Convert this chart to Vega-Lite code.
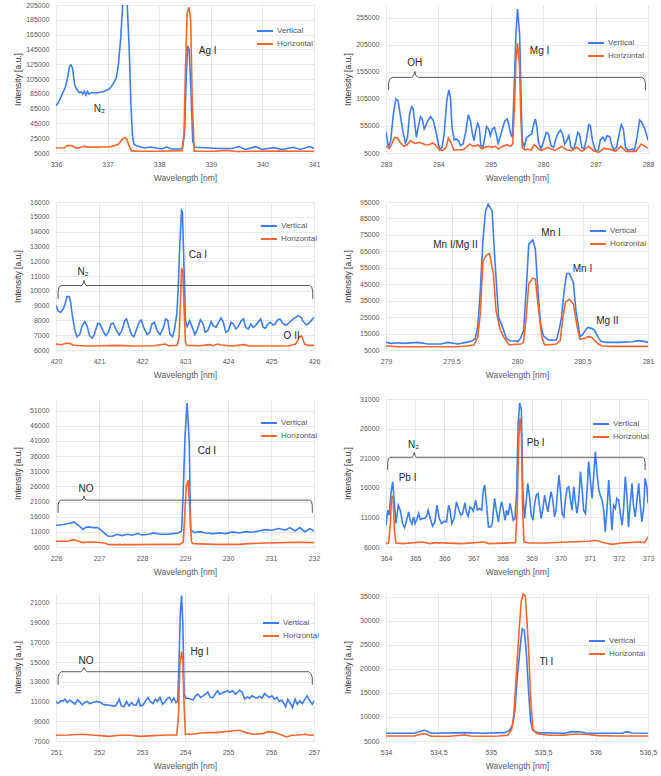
{
"$schema": "https://vega.github.io/schema/vega-lite/v6.json",
"padding": {"left": 13, "top": 1, "right": 8, "bottom": 2},
"columns": 2,
"spacing": {"row": 16, "column": 23},
"resolve": {"scale": {"color": "independent"}, "legend": {"color": "independent"}},
"datasets": {
"p1v": [{"nm":336.0,"v":68500},{"nm":336.06,"v":75000},{"nm":336.13,"v":86000},{"nm":336.19,"v":95500},{"nm":336.23,"v":109000},{"nm":336.26,"v":121500},{"nm":336.29,"v":124000},{"nm":336.32,"v":120000},{"nm":336.36,"v":97500},{"nm":336.39,"v":92500},{"nm":336.45,"v":86500},{"nm":336.49,"v":87500},{"nm":336.52,"v":85000},{"nm":336.55,"v":88500},{"nm":336.58,"v":83500},{"nm":336.61,"v":88000},{"nm":336.64,"v":84500},{"nm":336.68,"v":86500},{"nm":336.81,"v":86500},{"nm":336.94,"v":88500},{"nm":337.04,"v":92000},{"nm":337.1,"v":97500},{"nm":337.17,"v":107000},{"nm":337.21,"v":125000},{"nm":337.25,"v":156500},{"nm":337.29,"v":202000},{"nm":337.32,"v":250000},{"nm":337.36,"v":250000},{"nm":337.38,"v":206000},{"nm":337.42,"v":143000},{"nm":337.45,"v":75000},{"nm":337.48,"v":30000},{"nm":337.51,"v":17000},{"nm":337.59,"v":14000},{"nm":337.72,"v":11800},{"nm":337.82,"v":13000},{"nm":337.92,"v":12000},{"nm":338.05,"v":10500},{"nm":338.14,"v":13000},{"nm":338.24,"v":10500},{"nm":338.37,"v":10500},{"nm":338.45,"v":11000},{"nm":338.49,"v":30000},{"nm":338.52,"v":97500},{"nm":338.55,"v":150000},{"nm":338.58,"v":145000},{"nm":338.61,"v":97500},{"nm":338.65,"v":21000},{"nm":338.69,"v":12700},{"nm":338.89,"v":12000},{"nm":339.15,"v":11000},{"nm":339.41,"v":11000},{"nm":339.54,"v":13700},{"nm":339.67,"v":9800},{"nm":339.87,"v":13600},{"nm":339.99,"v":9800},{"nm":340.22,"v":12300},{"nm":340.38,"v":9800},{"nm":340.6,"v":12700},{"nm":340.73,"v":9800},{"nm":340.92,"v":13700},{"nm":341.0,"v":11000}],
"p1h": [{"nm":336.0,"v":11800},{"nm":336.16,"v":12000},{"nm":336.22,"v":15200},{"nm":336.3,"v":15000},{"nm":336.38,"v":12000},{"nm":336.46,"v":12200},{"nm":336.55,"v":14000},{"nm":336.63,"v":13000},{"nm":336.75,"v":13000},{"nm":336.9,"v":13200},{"nm":337.07,"v":13600},{"nm":337.2,"v":16300},{"nm":337.28,"v":23000},{"nm":337.33,"v":26000},{"nm":337.37,"v":24000},{"nm":337.41,"v":16000},{"nm":337.46,"v":8200},{"nm":337.6,"v":7300},{"nm":338.0,"v":7300},{"nm":338.44,"v":8200},{"nm":338.48,"v":30000},{"nm":338.51,"v":120000},{"nm":338.54,"v":193000},{"nm":338.58,"v":202000},{"nm":338.61,"v":184000},{"nm":338.64,"v":75000},{"nm":338.68,"v":7300},{"nm":339.08,"v":7300},{"nm":339.3,"v":8500},{"nm":339.5,"v":7000},{"nm":339.8,"v":7300},{"nm":340.3,"v":7500},{"nm":340.7,"v":7300},{"nm":341.0,"v":7300}],
"p1t": [{"nm":338.94,"v":143000,"t":"Ag I"},{"nm":336.84,"v":63800,"t":"N₂"}],
"p2v": [{"nm":283.0,"v":44500},{"nm":283.045,"v":15500},{"nm":283.09,"v":27800},{"nm":283.14,"v":77200},{"nm":283.19,"v":105000},{"nm":283.23,"v":101900},{"nm":283.27,"v":77200},{"nm":283.32,"v":46400},{"nm":283.37,"v":22900},{"nm":283.41,"v":34000},{"nm":283.45,"v":77200},{"nm":283.49,"v":90800},{"nm":283.52,"v":86500},{"nm":283.55,"v":58700},{"nm":283.58,"v":34000},{"nm":283.62,"v":55600},{"nm":283.66,"v":72300},{"nm":283.69,"v":68000},{"nm":283.73,"v":49400},{"nm":283.76,"v":55600},{"nm":283.8,"v":64900},{"nm":283.85,"v":72300},{"nm":283.9,"v":66100},{"nm":283.95,"v":46400},{"nm":284.0,"v":21700},{"nm":284.03,"v":10600},{"nm":284.07,"v":15500},{"nm":284.11,"v":40200},{"nm":284.16,"v":101900},{"nm":284.2,"v":121700},{"nm":284.23,"v":108100},{"nm":284.26,"v":52500},{"nm":284.3,"v":29100},{"nm":284.34,"v":30900},{"nm":284.39,"v":26600},{"nm":284.42,"v":18600},{"nm":284.47,"v":21700},{"nm":284.52,"v":43300},{"nm":284.57,"v":76000},{"nm":284.61,"v":64900},{"nm":284.65,"v":40200},{"nm":284.68,"v":27800},{"nm":284.72,"v":49400},{"nm":284.75,"v":59900},{"nm":284.78,"v":52500},{"nm":284.81,"v":18600},{"nm":284.85,"v":15500},{"nm":284.88,"v":30900},{"nm":284.92,"v":53800},{"nm":284.96,"v":49400},{"nm":284.99,"v":37100},{"nm":285.03,"v":49400},{"nm":285.07,"v":52500},{"nm":285.1,"v":41400},{"nm":285.14,"v":22900},{"nm":285.18,"v":35200},{"nm":285.23,"v":52500},{"nm":285.27,"v":64900},{"nm":285.31,"v":68000},{"nm":285.34,"v":58700},{"nm":285.38,"v":40200},{"nm":285.41,"v":34000},{"nm":285.44,"v":108100},{"nm":285.48,"v":225400},{"nm":285.51,"v":271700},{"nm":285.55,"v":225400},{"nm":285.58,"v":101900},{"nm":285.6,"v":27800},{"nm":285.64,"v":16700},{"nm":285.68,"v":32800},{"nm":285.73,"v":37100},{"nm":285.78,"v":40200},{"nm":285.82,"v":58700},{"nm":285.85,"v":68000},{"nm":285.88,"v":52500},{"nm":285.91,"v":24700},{"nm":285.96,"v":12400},{"nm":286.01,"v":27800},{"nm":286.06,"v":43300},{"nm":286.1,"v":40200},{"nm":286.15,"v":18600},{"nm":286.2,"v":15500},{"nm":286.24,"v":30900},{"nm":286.28,"v":40200},{"nm":286.33,"v":47600},{"nm":286.37,"v":40200},{"nm":286.41,"v":21700},{"nm":286.45,"v":27800},{"nm":286.49,"v":37100},{"nm":286.53,"v":15500},{"nm":286.58,"v":12400},{"nm":286.62,"v":24700},{"nm":286.66,"v":43300},{"nm":286.69,"v":40200},{"nm":286.74,"v":15500},{"nm":286.78,"v":12400},{"nm":286.82,"v":27800},{"nm":286.87,"v":57500},{"nm":286.9,"v":55600},{"nm":286.94,"v":27800},{"nm":287.0,"v":8100},{"nm":287.05,"v":9300},{"nm":287.09,"v":29100},{"nm":287.14,"v":34000},{"nm":287.18,"v":27800},{"nm":287.22,"v":37100},{"nm":287.27,"v":35200},{"nm":287.31,"v":18600},{"nm":287.35,"v":10600},{"nm":287.4,"v":15500},{"nm":287.45,"v":40200},{"nm":287.49,"v":57500},{"nm":287.53,"v":49400},{"nm":287.57,"v":15500},{"nm":287.61,"v":10600},{"nm":287.66,"v":10600},{"nm":287.7,"v":12400},{"nm":287.74,"v":9300},{"nm":287.79,"v":34000},{"nm":287.84,"v":66100},{"nm":287.88,"v":61800},{"nm":287.94,"v":49400},{"nm":288.0,"v":29100}],
"p2h": [{"nm":283.0,"v":17300},{"nm":283.06,"v":13600},{"nm":283.11,"v":21700},{"nm":283.17,"v":34000},{"nm":283.22,"v":32800},{"nm":283.27,"v":24800},{"nm":283.34,"v":17300},{"nm":283.4,"v":19800},{"nm":283.47,"v":27800},{"nm":283.51,"v":24800},{"nm":283.56,"v":22900},{"nm":283.63,"v":24800},{"nm":283.69,"v":22900},{"nm":283.76,"v":19800},{"nm":283.82,"v":20400},{"nm":283.89,"v":23500},{"nm":283.95,"v":19800},{"nm":284.02,"v":11200},{"nm":284.08,"v":9300},{"nm":284.15,"v":15500},{"nm":284.19,"v":32800},{"nm":284.24,"v":24800},{"nm":284.29,"v":11200},{"nm":284.37,"v":10600},{"nm":284.47,"v":11200},{"nm":284.53,"v":15500},{"nm":284.6,"v":21700},{"nm":284.66,"v":17300},{"nm":284.76,"v":19800},{"nm":284.83,"v":12400},{"nm":284.89,"v":15500},{"nm":284.96,"v":17300},{"nm":285.02,"v":15500},{"nm":285.09,"v":17300},{"nm":285.15,"v":12400},{"nm":285.21,"v":16700},{"nm":285.31,"v":20400},{"nm":285.38,"v":17300},{"nm":285.42,"v":21700},{"nm":285.45,"v":89600},{"nm":285.48,"v":176000},{"nm":285.51,"v":208100},{"nm":285.55,"v":163600},{"nm":285.57,"v":77200},{"nm":285.6,"v":15500},{"nm":285.65,"v":10600},{"nm":285.7,"v":12400},{"nm":285.77,"v":10600},{"nm":285.83,"v":20400},{"nm":285.9,"v":13600},{"nm":285.96,"v":9300},{"nm":286.09,"v":15500},{"nm":286.22,"v":9300},{"nm":286.35,"v":17300},{"nm":286.45,"v":10600},{"nm":286.54,"v":9300},{"nm":286.64,"v":15500},{"nm":286.74,"v":8100},{"nm":286.87,"v":17300},{"nm":286.96,"v":9300},{"nm":287.06,"v":6200},{"nm":287.16,"v":13600},{"nm":287.26,"v":12400},{"nm":287.38,"v":8100},{"nm":287.48,"v":17300},{"nm":287.58,"v":8100},{"nm":287.77,"v":8100},{"nm":287.87,"v":21700},{"nm":287.94,"v":17300},{"nm":288.0,"v":13600}],
"p2t": [{"nm":285.93,"v":194500,"t":"Mg I"},{"nm":283.55,"v":171000,"t":"OH"}],
"p2b": [{"nm":283.049,"v":121000},{"nm":283.05,"v":135000},{"nm":283.07,"v":142000},{"nm":283.12,"v":145000},{"nm":283.48,"v":145000},{"nm":283.53,"v":148500},{"nm":283.55,"v":156000},{"nm":283.57,"v":148500},{"nm":283.62,"v":145000},{"nm":287.88,"v":145000},{"nm":287.93,"v":142000},{"nm":287.95,"v":135000},{"nm":287.951,"v":121000}],
"p3v": [{"nm":420.0,"v":9000},{"nm":420.05,"v":8620},{"nm":420.11,"v":8550},{"nm":420.17,"v":8780},{"nm":420.21,"v":9110},{"nm":420.26,"v":9610},{"nm":420.31,"v":9610},{"nm":420.34,"v":9230},{"nm":420.38,"v":8320},{"nm":420.44,"v":7310},{"nm":420.49,"v":6900},{"nm":420.55,"v":7040},{"nm":420.61,"v":7650},{"nm":420.67,"v":7920},{"nm":420.72,"v":7650},{"nm":420.78,"v":6970},{"nm":420.84,"v":6790},{"nm":420.89,"v":7040},{"nm":420.97,"v":7810},{"nm":421.02,"v":7760},{"nm":421.09,"v":7310},{"nm":421.16,"v":6970},{"nm":421.22,"v":7200},{"nm":421.28,"v":7760},{"nm":421.33,"v":7810},{"nm":421.39,"v":7420},{"nm":421.47,"v":7020},{"nm":421.53,"v":7310},{"nm":421.6,"v":7990},{"nm":421.64,"v":8100},{"nm":421.7,"v":7530},{"nm":421.76,"v":7020},{"nm":421.81,"v":6900},{"nm":421.87,"v":7350},{"nm":421.93,"v":7870},{"nm":421.98,"v":8030},{"nm":422.04,"v":7530},{"nm":422.12,"v":7040},{"nm":422.18,"v":7200},{"nm":422.23,"v":7760},{"nm":422.29,"v":7870},{"nm":422.35,"v":7310},{"nm":422.42,"v":7040},{"nm":422.5,"v":7530},{"nm":422.55,"v":8100},{"nm":422.6,"v":7990},{"nm":422.65,"v":7080},{"nm":422.71,"v":6900},{"nm":422.75,"v":7310},{"nm":422.81,"v":8440},{"nm":422.84,"v":10020},{"nm":422.88,"v":13180},{"nm":422.92,"v":15430},{"nm":422.94,"v":15320},{"nm":422.97,"v":12270},{"nm":423.01,"v":7990},{"nm":423.05,"v":7580},{"nm":423.11,"v":7990},{"nm":423.17,"v":7530},{"nm":423.23,"v":7040},{"nm":423.29,"v":7420},{"nm":423.36,"v":8050},{"nm":423.42,"v":7760},{"nm":423.47,"v":7200},{"nm":423.53,"v":7310},{"nm":423.61,"v":7920},{"nm":423.66,"v":7650},{"nm":423.72,"v":7530},{"nm":423.78,"v":7870},{"nm":423.84,"v":8170},{"nm":423.89,"v":7870},{"nm":423.95,"v":7200},{"nm":424.01,"v":7310},{"nm":424.07,"v":7870},{"nm":424.13,"v":7760},{"nm":424.18,"v":7420},{"nm":424.24,"v":7580},{"nm":424.31,"v":7990},{"nm":424.36,"v":8100},{"nm":424.41,"v":7530},{"nm":424.47,"v":7420},{"nm":424.53,"v":7760},{"nm":424.59,"v":7530},{"nm":424.64,"v":7650},{"nm":424.7,"v":7870},{"nm":424.76,"v":8100},{"nm":424.82,"v":7530},{"nm":424.87,"v":7470},{"nm":424.93,"v":7760},{"nm":424.98,"v":7870},{"nm":425.05,"v":7690},{"nm":425.1,"v":7760},{"nm":425.15,"v":8030},{"nm":425.21,"v":8100},{"nm":425.27,"v":7810},{"nm":425.33,"v":7690},{"nm":425.39,"v":7760},{"nm":425.47,"v":7990},{"nm":425.54,"v":8140},{"nm":425.63,"v":8320},{"nm":425.7,"v":8210},{"nm":425.75,"v":7920},{"nm":425.83,"v":7690},{"nm":425.9,"v":7870},{"nm":426.0,"v":8210}],
"p3h": [{"nm":420.0,"v":6400},{"nm":420.13,"v":6360},{"nm":420.24,"v":6450},{"nm":420.32,"v":6450},{"nm":420.39,"v":6340},{"nm":420.51,"v":6300},{"nm":420.74,"v":6270},{"nm":421.05,"v":6290},{"nm":421.43,"v":6310},{"nm":421.81,"v":6270},{"nm":422.27,"v":6290},{"nm":422.54,"v":6400},{"nm":422.62,"v":6290},{"nm":422.81,"v":6310},{"nm":422.86,"v":6740},{"nm":422.89,"v":8890},{"nm":422.92,"v":11490},{"nm":422.95,"v":11370},{"nm":422.98,"v":8660},{"nm":423.01,"v":6520},{"nm":423.05,"v":6310},{"nm":423.34,"v":6290},{"nm":423.57,"v":6360},{"nm":423.65,"v":6290},{"nm":423.76,"v":6400},{"nm":423.84,"v":6340},{"nm":424.1,"v":6270},{"nm":424.37,"v":6360},{"nm":424.49,"v":6270},{"nm":424.87,"v":6270},{"nm":425.25,"v":6270},{"nm":425.4,"v":6290},{"nm":425.5,"v":6340},{"nm":425.57,"v":6400},{"nm":425.61,"v":6580},{"nm":425.65,"v":6860},{"nm":425.71,"v":6950},{"nm":425.74,"v":6740},{"nm":425.78,"v":6400},{"nm":425.86,"v":6310},{"nm":426.0,"v":6310}],
"p3t": [{"nm":420.63,"v":11260,"t":"N₂"},{"nm":423.3,"v":12390,"t":"Ca I"},{"nm":425.48,"v":6970,"t":"O II"}],
"p3b": [{"nm":420.049,"v":9450},{"nm":420.05,"v":9950},{"nm":420.07,"v":10250},{"nm":420.12,"v":10360},{"nm":420.6,"v":10360},{"nm":420.63,"v":10480},{"nm":420.65,"v":10700},{"nm":420.67,"v":10480},{"nm":420.7,"v":10360},{"nm":425.9,"v":10360},{"nm":425.95,"v":10250},{"nm":425.97,"v":9950},{"nm":425.971,"v":9450}],
"p4v": [{"nm":279.0,"v":9650},{"nm":279.04,"v":9050},{"nm":279.09,"v":9450},{"nm":279.14,"v":9050},{"nm":279.24,"v":9650},{"nm":279.32,"v":8640},{"nm":279.42,"v":8640},{"nm":279.47,"v":9650},{"nm":279.55,"v":8640},{"nm":279.61,"v":9650},{"nm":279.65,"v":10260},{"nm":279.68,"v":11680},{"nm":279.7,"v":18760},{"nm":279.72,"v":41030},{"nm":279.74,"v":71390},{"nm":279.76,"v":89600},{"nm":279.78,"v":93650},{"nm":279.81,"v":89600},{"nm":279.83,"v":61270},{"nm":279.86,"v":24840},{"nm":279.89,"v":18760},{"nm":279.92,"v":11680},{"nm":279.95,"v":10670},{"nm":280.01,"v":10260},{"nm":280.03,"v":12690},{"nm":280.05,"v":16740},{"nm":280.07,"v":41030},{"nm":280.09,"v":69360},{"nm":280.12,"v":71990},{"nm":280.14,"v":66330},{"nm":280.16,"v":41030},{"nm":280.18,"v":20790},{"nm":280.2,"v":13700},{"nm":280.24,"v":11070},{"nm":280.3,"v":11070},{"nm":280.32,"v":16740},{"nm":280.34,"v":24840},{"nm":280.36,"v":41030},{"nm":280.38,"v":51550},{"nm":280.4,"v":51550},{"nm":280.43,"v":46090},{"nm":280.45,"v":28880},{"nm":280.47,"v":18760},{"nm":280.48,"v":13100},{"nm":280.5,"v":14310},{"nm":280.52,"v":16740},{"nm":280.54,"v":18760},{"nm":280.57,"v":18160},{"nm":280.59,"v":17140},{"nm":280.62,"v":12690},{"nm":280.64,"v":10260},{"nm":280.68,"v":9650},{"nm":280.78,"v":9650},{"nm":280.88,"v":10060},{"nm":280.93,"v":10670},{"nm":280.97,"v":10260},{"nm":281.0,"v":9650}],
"p4h": [{"nm":279.0,"v":7630},{"nm":279.09,"v":7020},{"nm":279.35,"v":7020},{"nm":279.55,"v":7020},{"nm":279.61,"v":7430},{"nm":279.67,"v":8040},{"nm":279.7,"v":12690},{"nm":279.72,"v":26860},{"nm":279.74,"v":59240},{"nm":279.77,"v":62890},{"nm":279.79,"v":63700},{"nm":279.82,"v":51150},{"nm":279.84,"v":28880},{"nm":279.87,"v":17750},{"nm":279.9,"v":12690},{"nm":279.94,"v":8040},{"nm":279.99,"v":8440},{"nm":280.03,"v":8640},{"nm":280.05,"v":9650},{"nm":280.07,"v":24840},{"nm":280.09,"v":45480},{"nm":280.12,"v":48720},{"nm":280.14,"v":48110},{"nm":280.16,"v":32930},{"nm":280.19,"v":12690},{"nm":280.21,"v":8040},{"nm":280.25,"v":8240},{"nm":280.3,"v":8640},{"nm":280.33,"v":10670},{"nm":280.35,"v":24840},{"nm":280.37,"v":33940},{"nm":280.4,"v":35970},{"nm":280.43,"v":32930},{"nm":280.46,"v":18760},{"nm":280.48,"v":11480},{"nm":280.52,"v":12080},{"nm":280.54,"v":13100},{"nm":280.57,"v":12690},{"nm":280.59,"v":11070},{"nm":280.62,"v":8640},{"nm":280.65,"v":7430},{"nm":280.73,"v":7230},{"nm":281.0,"v":7230}],
"p4t": [{"nm":279.53,"v":69000,"t":"Mn I/Mg II"},{"nm":280.26,"v":76450,"t":"Mn I"},{"nm":280.5,"v":54180,"t":"Mn I"},{"nm":280.69,"v":22810,"t":"Mg II"}],
"p5v": [{"nm":226.0,"v":13180},{"nm":226.17,"v":13400},{"nm":226.28,"v":13730},{"nm":226.36,"v":13950},{"nm":226.42,"v":14280},{"nm":226.47,"v":13730},{"nm":226.55,"v":12840},{"nm":226.63,"v":11740},{"nm":226.68,"v":12400},{"nm":226.76,"v":12620},{"nm":226.86,"v":12400},{"nm":226.97,"v":12400},{"nm":227.05,"v":11520},{"nm":227.12,"v":10640},{"nm":227.2,"v":9640},{"nm":227.31,"v":9530},{"nm":227.43,"v":10200},{"nm":227.54,"v":9750},{"nm":227.66,"v":10200},{"nm":227.77,"v":9860},{"nm":227.89,"v":10420},{"nm":228.0,"v":9970},{"nm":228.16,"v":10200},{"nm":228.27,"v":10640},{"nm":228.42,"v":10200},{"nm":228.58,"v":10200},{"nm":228.73,"v":10420},{"nm":228.84,"v":10640},{"nm":228.92,"v":11300},{"nm":228.96,"v":24770},{"nm":229.0,"v":42430},{"nm":229.05,"v":53470},{"nm":229.1,"v":40220},{"nm":229.13,"v":11520},{"nm":229.23,"v":10750},{"nm":229.34,"v":11080},{"nm":229.49,"v":10640},{"nm":229.65,"v":10420},{"nm":229.8,"v":10640},{"nm":229.95,"v":10420},{"nm":230.11,"v":10970},{"nm":230.26,"v":10640},{"nm":230.41,"v":11080},{"nm":230.56,"v":10860},{"nm":230.72,"v":11300},{"nm":230.87,"v":11740},{"nm":231.02,"v":11520},{"nm":231.18,"v":12070},{"nm":231.33,"v":11520},{"nm":231.44,"v":12400},{"nm":231.56,"v":11300},{"nm":231.67,"v":12400},{"nm":231.79,"v":10970},{"nm":231.9,"v":12070},{"nm":232.0,"v":11300}],
"p5h": [{"nm":226.0,"v":7880},{"nm":226.28,"v":7880},{"nm":226.4,"v":8430},{"nm":226.51,"v":7990},{"nm":226.63,"v":7440},{"nm":226.74,"v":7660},{"nm":226.97,"v":7550},{"nm":227.12,"v":7330},{"nm":227.24,"v":6770},{"nm":227.8,"v":6770},{"nm":228.57,"v":6880},{"nm":228.88,"v":6880},{"nm":228.96,"v":7660},{"nm":228.99,"v":15940},{"nm":229.03,"v":25870},{"nm":229.07,"v":28080},{"nm":229.11,"v":19250},{"nm":229.15,"v":7660},{"nm":229.19,"v":7100},{"nm":229.72,"v":6880},{"nm":230.26,"v":6880},{"nm":230.48,"v":7100},{"nm":230.87,"v":7320},{"nm":231.25,"v":7440},{"nm":231.63,"v":7550},{"nm":232.0,"v":7440}],
"p5t": [{"nm":226.7,"v":25000,"t":"NO"},{"nm":229.51,"v":37800,"t":"Cd I"}],
"p5b": [{"nm":226.049,"v":17260},{"nm":226.05,"v":19800},{"nm":226.07,"v":21000},{"nm":226.12,"v":21450},{"nm":226.6,"v":21450},{"nm":226.63,"v":21900},{"nm":226.65,"v":22800},{"nm":226.67,"v":21900},{"nm":226.7,"v":21450},{"nm":231.9,"v":21450},{"nm":231.94,"v":21000},{"nm":231.96,"v":19800},{"nm":231.961,"v":17260}],
"p6v": [{"nm":364.0,"v":9680},{"nm":364.06,"v":12220},{"nm":364.11,"v":11370},{"nm":364.17,"v":15050},{"nm":364.23,"v":17030},{"nm":364.29,"v":13350},{"nm":364.34,"v":9960},{"nm":364.42,"v":13070},{"nm":364.49,"v":12220},{"nm":364.57,"v":9960},{"nm":364.64,"v":9280},{"nm":364.72,"v":10810},{"nm":364.78,"v":11940},{"nm":364.83,"v":10520},{"nm":364.89,"v":9850},{"nm":364.95,"v":11090},{"nm":365.0,"v":9960},{"nm":365.06,"v":10640},{"nm":365.12,"v":11660},{"nm":365.18,"v":10640},{"nm":365.26,"v":10810},{"nm":365.34,"v":10810},{"nm":365.39,"v":11200},{"nm":365.45,"v":12220},{"nm":365.52,"v":10810},{"nm":365.6,"v":9510},{"nm":365.68,"v":10240},{"nm":365.75,"v":13070},{"nm":365.83,"v":10810},{"nm":365.91,"v":9960},{"nm":366.0,"v":10360},{"nm":366.08,"v":10240},{"nm":366.15,"v":13070},{"nm":366.2,"v":12220},{"nm":366.26,"v":9960},{"nm":366.34,"v":10810},{"nm":366.42,"v":13640},{"nm":366.49,"v":12500},{"nm":366.57,"v":11370},{"nm":366.63,"v":11660},{"nm":366.71,"v":13470},{"nm":366.76,"v":11940},{"nm":366.82,"v":11200},{"nm":366.89,"v":12790},{"nm":366.95,"v":12500},{"nm":367.0,"v":12050},{"nm":367.08,"v":13920},{"nm":367.14,"v":12220},{"nm":367.22,"v":12500},{"nm":367.29,"v":12220},{"nm":367.34,"v":15620},{"nm":367.39,"v":16460},{"nm":367.45,"v":13350},{"nm":367.52,"v":9390},{"nm":367.6,"v":9390},{"nm":367.65,"v":9960},{"nm":367.73,"v":14200},{"nm":367.79,"v":12220},{"nm":367.86,"v":10240},{"nm":367.92,"v":12500},{"nm":367.97,"v":13640},{"nm":368.03,"v":12220},{"nm":368.09,"v":10520},{"nm":368.14,"v":12220},{"nm":368.2,"v":11370},{"nm":368.26,"v":13350},{"nm":368.32,"v":11940},{"nm":368.37,"v":10520},{"nm":368.43,"v":10810},{"nm":368.49,"v":15620},{"nm":368.54,"v":26930},{"nm":368.59,"v":30320},{"nm":368.65,"v":29190},{"nm":368.7,"v":15620},{"nm":368.76,"v":10810},{"nm":368.82,"v":13920},{"nm":368.87,"v":16750},{"nm":368.93,"v":14480},{"nm":368.99,"v":11370},{"nm":369.05,"v":10520},{"nm":369.1,"v":13070},{"nm":369.16,"v":14770},{"nm":369.22,"v":15050},{"nm":369.27,"v":13070},{"nm":369.33,"v":10810},{"nm":369.39,"v":12500},{"nm":369.45,"v":14770},{"nm":369.5,"v":13350},{"nm":369.56,"v":11940},{"nm":369.62,"v":13920},{"nm":369.67,"v":15330},{"nm":369.73,"v":13920},{"nm":369.79,"v":11090},{"nm":369.84,"v":12220},{"nm":369.94,"v":18160},{"nm":369.99,"v":15620},{"nm":370.05,"v":11660},{"nm":370.11,"v":11090},{"nm":370.16,"v":13920},{"nm":370.22,"v":15900},{"nm":370.28,"v":16180},{"nm":370.34,"v":13920},{"nm":370.39,"v":12220},{"nm":370.45,"v":16180},{"nm":370.51,"v":13350},{"nm":370.56,"v":11660},{"nm":370.62,"v":13920},{"nm":370.68,"v":18730},{"nm":370.74,"v":15620},{"nm":370.79,"v":12220},{"nm":370.85,"v":11660},{"nm":370.91,"v":15620},{"nm":370.96,"v":20420},{"nm":371.02,"v":17310},{"nm":371.08,"v":14200},{"nm":371.14,"v":18440},{"nm":371.19,"v":22120},{"nm":371.25,"v":18440},{"nm":371.31,"v":15620},{"nm":371.36,"v":14770},{"nm":371.42,"v":13920},{"nm":371.48,"v":12220},{"nm":371.53,"v":8550},{"nm":371.59,"v":12220},{"nm":371.65,"v":17310},{"nm":371.71,"v":12790},{"nm":371.76,"v":8830},{"nm":371.82,"v":13070},{"nm":371.88,"v":12500},{"nm":371.93,"v":14200},{"nm":371.99,"v":13920},{"nm":372.05,"v":11660},{"nm":372.11,"v":9680},{"nm":372.16,"v":12220},{"nm":372.22,"v":17880},{"nm":372.28,"v":14480},{"nm":372.33,"v":9390},{"nm":372.39,"v":13350},{"nm":372.45,"v":16750},{"nm":372.5,"v":13070},{"nm":372.56,"v":11090},{"nm":372.62,"v":13920},{"nm":372.68,"v":16750},{"nm":372.73,"v":13350},{"nm":372.79,"v":10240},{"nm":372.85,"v":12500},{"nm":372.9,"v":17590},{"nm":372.96,"v":16180},{"nm":373.0,"v":13350}],
"p6h": [{"nm":364.0,"v":6570},{"nm":364.09,"v":6680},{"nm":364.15,"v":9960},{"nm":364.19,"v":14480},{"nm":364.24,"v":14590},{"nm":364.29,"v":8830},{"nm":364.34,"v":6680},{"nm":364.57,"v":6570},{"nm":365.26,"v":6850},{"nm":365.5,"v":6570},{"nm":365.71,"v":6740},{"nm":366.6,"v":6570},{"nm":367.37,"v":6850},{"nm":367.54,"v":6570},{"nm":368.45,"v":6740},{"nm":368.51,"v":12790},{"nm":368.56,"v":24100},{"nm":368.6,"v":27780},{"nm":368.65,"v":25230},{"nm":368.69,"v":12790},{"nm":368.74,"v":6850},{"nm":368.91,"v":6680},{"nm":369.48,"v":6680},{"nm":370.05,"v":6790},{"nm":370.96,"v":6960},{"nm":371.19,"v":7130},{"nm":371.53,"v":6680},{"nm":371.76,"v":6450},{"nm":372.1,"v":6680},{"nm":372.33,"v":6740},{"nm":372.68,"v":6850},{"nm":372.88,"v":6740},{"nm":373.0,"v":7700}],
"p6t": [{"nm":364.95,"v":23250,"t":"N₂"},{"nm":369.14,"v":23650,"t":"Pb I"},{"nm":364.74,"v":17600,"t":"Pb I"}],
"p6b": [{"nm":364.059,"v":19000},{"nm":364.06,"v":20300},{"nm":364.08,"v":20900},{"nm":364.13,"v":21160},{"nm":364.9,"v":21160},{"nm":364.94,"v":21450},{"nm":364.97,"v":21950},{"nm":365.0,"v":21450},{"nm":365.04,"v":21160},{"nm":372.82,"v":21160},{"nm":372.87,"v":20900},{"nm":372.9,"v":20300},{"nm":372.901,"v":19000}],
"p7v": [{"nm":251.0,"v":11000},{"nm":251.05,"v":10800},{"nm":251.11,"v":11070},{"nm":251.17,"v":11070},{"nm":251.21,"v":11240},{"nm":251.26,"v":10900},{"nm":251.32,"v":11140},{"nm":251.37,"v":11000},{"nm":251.44,"v":10730},{"nm":251.5,"v":11170},{"nm":251.55,"v":11000},{"nm":251.61,"v":10660},{"nm":251.67,"v":10900},{"nm":251.73,"v":11000},{"nm":251.78,"v":10800},{"nm":251.86,"v":10900},{"nm":251.93,"v":11000},{"nm":252.01,"v":10970},{"nm":252.09,"v":10730},{"nm":252.16,"v":10660},{"nm":252.24,"v":10630},{"nm":252.31,"v":10560},{"nm":252.39,"v":10560},{"nm":252.47,"v":11240},{"nm":252.52,"v":10560},{"nm":252.58,"v":10460},{"nm":252.64,"v":11000},{"nm":252.7,"v":10560},{"nm":252.76,"v":10900},{"nm":252.81,"v":10630},{"nm":252.87,"v":10660},{"nm":252.92,"v":11240},{"nm":252.96,"v":10560},{"nm":253.03,"v":10660},{"nm":253.08,"v":11070},{"nm":253.14,"v":11410},{"nm":253.19,"v":11000},{"nm":253.26,"v":10800},{"nm":253.31,"v":11240},{"nm":253.36,"v":11000},{"nm":253.42,"v":11410},{"nm":253.48,"v":10730},{"nm":253.54,"v":11000},{"nm":253.59,"v":11340},{"nm":253.64,"v":11410},{"nm":253.69,"v":11000},{"nm":253.74,"v":11340},{"nm":253.79,"v":10900},{"nm":253.83,"v":11070},{"nm":253.86,"v":14800},{"nm":253.89,"v":19880},{"nm":253.92,"v":21750},{"nm":253.95,"v":18870},{"nm":253.98,"v":11750},{"nm":254.02,"v":11340},{"nm":254.07,"v":11340},{"nm":254.13,"v":11240},{"nm":254.19,"v":11170},{"nm":254.25,"v":11580},{"nm":254.3,"v":11750},{"nm":254.36,"v":11410},{"nm":254.42,"v":11580},{"nm":254.48,"v":11750},{"nm":254.53,"v":11980},{"nm":254.59,"v":11410},{"nm":254.65,"v":11410},{"nm":254.71,"v":11810},{"nm":254.76,"v":12090},{"nm":254.81,"v":11750},{"nm":254.88,"v":11920},{"nm":254.94,"v":11980},{"nm":254.99,"v":12090},{"nm":255.04,"v":11920},{"nm":255.11,"v":12090},{"nm":255.17,"v":11750},{"nm":255.22,"v":11920},{"nm":255.27,"v":12150},{"nm":255.33,"v":11920},{"nm":255.39,"v":11240},{"nm":255.45,"v":11470},{"nm":255.5,"v":11340},{"nm":255.56,"v":11580},{"nm":255.63,"v":11410},{"nm":255.68,"v":11340},{"nm":255.73,"v":11540},{"nm":255.79,"v":11340},{"nm":255.85,"v":11810},{"nm":255.91,"v":11580},{"nm":255.96,"v":11410},{"nm":256.02,"v":11580},{"nm":256.08,"v":11240},{"nm":256.14,"v":11410},{"nm":256.19,"v":11000},{"nm":256.25,"v":11140},{"nm":256.31,"v":10730},{"nm":256.34,"v":10460},{"nm":256.39,"v":11240},{"nm":256.44,"v":10900},{"nm":256.5,"v":10390},{"nm":256.56,"v":11240},{"nm":256.61,"v":10730},{"nm":256.67,"v":11070},{"nm":256.73,"v":10800},{"nm":256.79,"v":11240},{"nm":256.84,"v":11580},{"nm":256.9,"v":11070},{"nm":256.96,"v":10730},{"nm":257.0,"v":11070}],
"p7h": [{"nm":251.0,"v":7580},{"nm":251.28,"v":7610},{"nm":251.59,"v":7680},{"nm":251.82,"v":7610},{"nm":252.05,"v":7540},{"nm":252.24,"v":7470},{"nm":252.47,"v":7580},{"nm":252.73,"v":7580},{"nm":252.96,"v":7470},{"nm":253.27,"v":7540},{"nm":253.58,"v":7610},{"nm":253.81,"v":7610},{"nm":253.85,"v":9710},{"nm":253.88,"v":14800},{"nm":253.92,"v":16070},{"nm":253.95,"v":15120},{"nm":253.98,"v":10390},{"nm":254.01,"v":7680},{"nm":254.19,"v":7680},{"nm":254.34,"v":7780},{"nm":254.49,"v":7850},{"nm":254.72,"v":7850},{"nm":254.94,"v":7950},{"nm":255.1,"v":8020},{"nm":255.27,"v":8090},{"nm":255.42,"v":7850},{"nm":255.57,"v":7680},{"nm":255.8,"v":7750},{"nm":255.94,"v":7950},{"nm":256.09,"v":7850},{"nm":256.25,"v":7610},{"nm":256.36,"v":7410},{"nm":256.48,"v":7580},{"nm":256.63,"v":7610},{"nm":256.79,"v":7680},{"nm":256.9,"v":7580},{"nm":257.0,"v":7610}],
"p7t": [{"nm":251.7,"v":15070,"t":"NO"},{"nm":254.34,"v":15980,"t":"Hg I"}],
"p7b": [{"nm":251.049,"v":12700},{"nm":251.05,"v":13450},{"nm":251.07,"v":13800},{"nm":251.12,"v":14020},{"nm":251.58,"v":14020},{"nm":251.62,"v":14200},{"nm":251.65,"v":14460},{"nm":251.68,"v":14200},{"nm":251.72,"v":14020},{"nm":256.88,"v":14020},{"nm":256.93,"v":13800},{"nm":256.96,"v":13450},{"nm":256.961,"v":12700}],
"p8v": [{"nm":534.0,"v":6600},{"nm":534.27,"v":6600},{"nm":534.31,"v":6880},{"nm":534.36,"v":7230},{"nm":534.39,"v":7090},{"nm":534.43,"v":6600},{"nm":534.75,"v":6740},{"nm":534.91,"v":6600},{"nm":535.13,"v":6740},{"nm":535.18,"v":7230},{"nm":535.21,"v":8490},{"nm":535.23,"v":11280},{"nm":535.25,"v":17550},{"nm":535.28,"v":24530},{"nm":535.3,"v":28360},{"nm":535.32,"v":28010},{"nm":535.34,"v":23130},{"nm":535.36,"v":15460},{"nm":535.38,"v":9180},{"nm":535.4,"v":7230},{"nm":535.44,"v":6740},{"nm":535.71,"v":6600},{"nm":535.77,"v":6950},{"nm":535.87,"v":6880},{"nm":535.91,"v":6600},{"nm":536.25,"v":6600},{"nm":536.3,"v":6950},{"nm":536.35,"v":6670},{"nm":536.5,"v":6600}],
"p8h": [{"nm":534.0,"v":6050},{"nm":534.27,"v":6050},{"nm":534.35,"v":6530},{"nm":534.39,"v":6400},{"nm":534.43,"v":5980},{"nm":534.6,"v":5980},{"nm":534.75,"v":6260},{"nm":534.81,"v":6050},{"nm":534.91,"v":5980},{"nm":535.07,"v":6050},{"nm":535.16,"v":6190},{"nm":535.2,"v":7440},{"nm":535.22,"v":10580},{"nm":535.24,"v":17550},{"nm":535.27,"v":28000},{"nm":535.29,"v":33940},{"nm":535.31,"v":35680},{"nm":535.33,"v":35130},{"nm":535.36,"v":24530},{"nm":535.38,"v":14070},{"nm":535.4,"v":7440},{"nm":535.44,"v":6530},{"nm":535.55,"v":6190},{"nm":535.71,"v":6190},{"nm":535.77,"v":6400},{"nm":535.9,"v":6400},{"nm":536.03,"v":6120},{"nm":536.19,"v":6050},{"nm":536.35,"v":6050},{"nm":536.5,"v":6050}],
"p8t": [{"nm":535.53,"v":21390,"t":"Tl I"}]
},
"concat": [
{"width": 258, "height": 148, "layer": [
 {"data": {"name": "p1v"}, "mark": {"type": "line", "clip": true, "strokeWidth": 1.6},
  "encoding": {
   "x": {"field": "nm", "type": "quantitative", "title": "Wavelength [nm]", "scale": {"domain": [336, 341], "nice": false, "zero": false}, "axis": {"values": [336,337,338,339,340,341], "format": "d", "tickCount": 50}},
   "y": {"field": "v", "type": "quantitative", "title": "Intensity [a.u.]", "scale": {"domain": [5000, 205000], "nice": false, "zero": false}, "axis": {"values": [5000,25000,45000,65000,85000,105000,125000,145000,165000,185000,205000], "format": "d", "tickCount": 50}},
   "color": {"datum": "Vertical", "scale": {"domain": ["Vertical","Horizontal"], "range": ["#3c7df2","#f5652f"]}, "legend": {"orient": "none", "legendX": 200, "legendY": 17}}}},
 {"data": {"name": "p1h"}, "mark": {"type": "line", "clip": true, "strokeWidth": 1.6},
  "encoding": {"x": {"field": "nm", "type": "quantitative"}, "y": {"field": "v", "type": "quantitative"}, "color": {"datum": "Horizontal"}}},
 {"data": {"name": "p1t"}, "mark": {"type": "text", "fontSize": 10, "color": "#262626"},
  "encoding": {"x": {"field": "nm", "type": "quantitative"}, "y": {"field": "v", "type": "quantitative"}, "text": {"field": "t"}}}
]},
{"width": 262, "height": 148, "layer": [
 {"data": {"name": "p2v"}, "mark": {"type": "line", "clip": true, "strokeWidth": 1.6},
  "encoding": {
   "x": {"field": "nm", "type": "quantitative", "title": "Wavelength [nm]", "scale": {"domain": [283, 288], "nice": false, "zero": false}, "axis": {"values": [283,284,285,286,287,288], "format": "d", "tickCount": 50}},
   "y": {"field": "v", "type": "quantitative", "title": "Intensity [a.u.]", "scale": {"domain": [5000, 279000], "nice": false, "zero": false}, "axis": {"values": [5000,55000,105000,155000,205000,255000], "format": "d", "tickCount": 50}},
   "color": {"datum": "Vertical", "scale": {"domain": ["Vertical","Horizontal"], "range": ["#3c7df2","#f5652f"]}, "legend": {"orient": "none", "legendX": 201, "legendY": 29}}}},
 {"data": {"name": "p2h"}, "mark": {"type": "line", "clip": true, "strokeWidth": 1.6},
  "encoding": {"x": {"field": "nm", "type": "quantitative"}, "y": {"field": "v", "type": "quantitative"}, "color": {"datum": "Horizontal"}}},
 {"data": {"name": "p2b"}, "mark": {"type": "line", "strokeWidth": 1, "color": "#595959"},
  "encoding": {"x": {"field": "nm", "type": "quantitative"}, "y": {"field": "v", "type": "quantitative"}}},
 {"data": {"name": "p2t"}, "mark": {"type": "text", "fontSize": 10, "color": "#262626"},
  "encoding": {"x": {"field": "nm", "type": "quantitative"}, "y": {"field": "v", "type": "quantitative"}, "text": {"field": "t"}}}
]},
{"width": 258, "height": 148, "layer": [
 {"data": {"name": "p3v"}, "mark": {"type": "line", "clip": true, "strokeWidth": 1.6},
  "encoding": {
   "x": {"field": "nm", "type": "quantitative", "title": "Wavelength [nm]", "scale": {"domain": [420, 426], "nice": false, "zero": false}, "axis": {"values": [420,421,422,423,424,425,426], "format": "d", "tickCount": 50}},
   "y": {"field": "v", "type": "quantitative", "title": "Intensity [a.u.]", "scale": {"domain": [6000, 16000], "nice": false, "zero": false}, "axis": {"values": [6000,7000,8000,9000,10000,11000,12000,13000,14000,15000,16000], "format": "d", "tickCount": 50}},
   "color": {"datum": "Vertical", "scale": {"domain": ["Vertical","Horizontal"], "range": ["#3c7df2","#f5652f"]}, "legend": {"orient": "none", "legendX": 204, "legendY": 15}}}},
 {"data": {"name": "p3h"}, "mark": {"type": "line", "clip": true, "strokeWidth": 1.6},
  "encoding": {"x": {"field": "nm", "type": "quantitative"}, "y": {"field": "v", "type": "quantitative"}, "color": {"datum": "Horizontal"}}},
 {"data": {"name": "p3b"}, "mark": {"type": "line", "strokeWidth": 1, "color": "#595959"},
  "encoding": {"x": {"field": "nm", "type": "quantitative"}, "y": {"field": "v", "type": "quantitative"}}},
 {"data": {"name": "p3t"}, "mark": {"type": "text", "fontSize": 10, "color": "#262626"},
  "encoding": {"x": {"field": "nm", "type": "quantitative"}, "y": {"field": "v", "type": "quantitative"}, "text": {"field": "t"}}}
]},
{"width": 262, "height": 148, "layer": [
 {"data": {"name": "p4v"}, "mark": {"type": "line", "clip": true, "strokeWidth": 1.6},
  "encoding": {
   "x": {"field": "nm", "type": "quantitative", "title": "Wavelength [nm]", "scale": {"domain": [279, 281], "nice": false, "zero": false}, "axis": {"values": [279,279.5,280,280.5,281], "format": "~f", "labelExpr": "replace(datum.label, '.', ',')", "tickCount": 50}},
   "y": {"field": "v", "type": "quantitative", "title": "Intensity [a.u.]", "scale": {"domain": [5000, 95000], "nice": false, "zero": false}, "axis": {"values": [5000,15000,25000,35000,45000,55000,65000,75000,85000,95000], "format": "d", "tickCount": 50}},
   "color": {"datum": "Vertical", "scale": {"domain": ["Vertical","Horizontal"], "range": ["#3c7df2","#f5652f"]}, "legend": {"orient": "none", "legendX": 203, "legendY": 20}}}},
 {"data": {"name": "p4h"}, "mark": {"type": "line", "clip": true, "strokeWidth": 1.6},
  "encoding": {"x": {"field": "nm", "type": "quantitative"}, "y": {"field": "v", "type": "quantitative"}, "color": {"datum": "Horizontal"}}},
 {"data": {"name": "p4t"}, "mark": {"type": "text", "fontSize": 10, "color": "#262626"},
  "encoding": {"x": {"field": "nm", "type": "quantitative"}, "y": {"field": "v", "type": "quantitative"}, "text": {"field": "t"}}}
]},
{"width": 258, "height": 148, "layer": [
 {"data": {"name": "p5v"}, "mark": {"type": "line", "clip": true, "strokeWidth": 1.6},
  "encoding": {
   "x": {"field": "nm", "type": "quantitative", "title": "Wavelength [nm]", "scale": {"domain": [226, 232], "nice": false, "zero": false}, "axis": {"values": [226,227,228,229,230,231,232], "format": "d", "tickCount": 50}},
   "y": {"field": "v", "type": "quantitative", "title": "Intensity [a.u.]", "scale": {"domain": [6000, 54800], "nice": false, "zero": false}, "axis": {"values": [6000,11000,16000,21000,26000,31000,36000,41000,46000,51000], "format": "d", "tickCount": 50}},
   "color": {"datum": "Vertical", "scale": {"domain": ["Vertical","Horizontal"], "range": ["#3c7df2","#f5652f"]}, "legend": {"orient": "none", "legendX": 204, "legendY": 15}}}},
 {"data": {"name": "p5h"}, "mark": {"type": "line", "clip": true, "strokeWidth": 1.6},
  "encoding": {"x": {"field": "nm", "type": "quantitative"}, "y": {"field": "v", "type": "quantitative"}, "color": {"datum": "Horizontal"}}},
 {"data": {"name": "p5b"}, "mark": {"type": "line", "strokeWidth": 1, "color": "#595959"},
  "encoding": {"x": {"field": "nm", "type": "quantitative"}, "y": {"field": "v", "type": "quantitative"}}},
 {"data": {"name": "p5t"}, "mark": {"type": "text", "fontSize": 10, "color": "#262626"},
  "encoding": {"x": {"field": "nm", "type": "quantitative"}, "y": {"field": "v", "type": "quantitative"}, "text": {"field": "t"}}}
]},
{"width": 262, "height": 148, "layer": [
 {"data": {"name": "p6v"}, "mark": {"type": "line", "clip": true, "strokeWidth": 1.6},
  "encoding": {
   "x": {"field": "nm", "type": "quantitative", "title": "Wavelength [nm]", "scale": {"domain": [364, 373], "nice": false, "zero": false}, "axis": {"values": [364,365,366,367,368,369,370,371,372,373], "format": "d", "tickCount": 50}},
   "y": {"field": "v", "type": "quantitative", "title": "Intensity [a.u.]", "scale": {"domain": [6000, 31000], "nice": false, "zero": false}, "axis": {"values": [6000,11000,16000,21000,26000,31000], "format": "d", "tickCount": 50}},
   "color": {"datum": "Vertical", "scale": {"domain": ["Vertical","Horizontal"], "range": ["#3c7df2","#f5652f"]}, "legend": {"orient": "none", "legendX": 206, "legendY": 16}}}},
 {"data": {"name": "p6h"}, "mark": {"type": "line", "clip": true, "strokeWidth": 1.6},
  "encoding": {"x": {"field": "nm", "type": "quantitative"}, "y": {"field": "v", "type": "quantitative"}, "color": {"datum": "Horizontal"}}},
 {"data": {"name": "p6b"}, "mark": {"type": "line", "strokeWidth": 1, "color": "#595959"},
  "encoding": {"x": {"field": "nm", "type": "quantitative"}, "y": {"field": "v", "type": "quantitative"}}},
 {"data": {"name": "p6t"}, "mark": {"type": "text", "fontSize": 10, "color": "#262626"},
  "encoding": {"x": {"field": "nm", "type": "quantitative"}, "y": {"field": "v", "type": "quantitative"}, "text": {"field": "t"}}}
]},
{"width": 258, "height": 148, "layer": [
 {"data": {"name": "p7v"}, "mark": {"type": "line", "clip": true, "strokeWidth": 1.6},
  "encoding": {
   "x": {"field": "nm", "type": "quantitative", "title": "Wavelength [nm]", "scale": {"domain": [251, 257], "nice": false, "zero": false}, "axis": {"values": [251,252,253,254,255,256,257], "format": "d", "tickCount": 50}},
   "y": {"field": "v", "type": "quantitative", "title": "Intensity [a.u.]", "scale": {"domain": [7000, 22000], "nice": false, "zero": false}, "axis": {"values": [7000,9000,11000,13000,15000,17000,19000,21000], "format": "d", "tickCount": 50}},
   "color": {"datum": "Vertical", "scale": {"domain": ["Vertical","Horizontal"], "range": ["#3c7df2","#f5652f"]}, "legend": {"orient": "none", "legendX": 206, "legendY": 21}}}},
 {"data": {"name": "p7h"}, "mark": {"type": "line", "clip": true, "strokeWidth": 1.6},
  "encoding": {"x": {"field": "nm", "type": "quantitative"}, "y": {"field": "v", "type": "quantitative"}, "color": {"datum": "Horizontal"}}},
 {"data": {"name": "p7b"}, "mark": {"type": "line", "strokeWidth": 1, "color": "#595959"},
  "encoding": {"x": {"field": "nm", "type": "quantitative"}, "y": {"field": "v", "type": "quantitative"}}},
 {"data": {"name": "p7t"}, "mark": {"type": "text", "fontSize": 10, "color": "#262626"},
  "encoding": {"x": {"field": "nm", "type": "quantitative"}, "y": {"field": "v", "type": "quantitative"}, "text": {"field": "t"}}}
]},
{"width": 262, "height": 148, "layer": [
 {"data": {"name": "p8v"}, "mark": {"type": "line", "clip": true, "strokeWidth": 1.6},
  "encoding": {
   "x": {"field": "nm", "type": "quantitative", "title": "Wavelength [nm]", "scale": {"domain": [534, 536.5], "nice": false, "zero": false}, "axis": {"values": [534,534.5,535,535.5,536,536.5], "format": "~f", "labelExpr": "replace(datum.label, '.', ',')", "tickCount": 50}},
   "y": {"field": "v", "type": "quantitative", "title": "Intensity [a.u.]", "scale": {"domain": [5000, 35800], "nice": false, "zero": false}, "axis": {"values": [5000,10000,15000,20000,25000,30000,35000], "format": "d", "tickCount": 50}},
   "color": {"datum": "Vertical", "scale": {"domain": ["Vertical","Horizontal"], "range": ["#3c7df2","#f5652f"]}, "legend": {"orient": "none", "legendX": 202, "legendY": 39}}}},
 {"data": {"name": "p8h"}, "mark": {"type": "line", "clip": true, "strokeWidth": 1.6},
  "encoding": {"x": {"field": "nm", "type": "quantitative"}, "y": {"field": "v", "type": "quantitative"}, "color": {"datum": "Horizontal"}}},
 {"data": {"name": "p8t"}, "mark": {"type": "text", "fontSize": 10, "color": "#262626"},
  "encoding": {"x": {"field": "nm", "type": "quantitative"}, "y": {"field": "v", "type": "quantitative"}, "text": {"field": "t"}}}
]}
],
"config": {
 "font": "Liberation Sans",
 "view": {"stroke": null},
 "axis": {"grid": true, "gridColor": "#dde3ea", "gridWidth": 0.8, "domain": false, "ticks": false, "labelFontSize": 7, "labelColor": "#595959", "labelFlush": false, "labelOverlap": false, "titleFontSize": 8.5, "titleFontWeight": "normal", "titleColor": "#595959"},
 "axisX": {"labelPadding": 7, "titlePadding": 6},
 "axisY": {"labelPadding": 7, "titlePadding": 4, "minExtent": 30, "maxExtent": 30, "titleColor": "#333333"},
 "legend": {"title": null, "symbolType": "stroke", "symbolSize": 256, "symbolStrokeWidth": 2, "labelFontSize": 8, "labelColor": "#595959", "labelOffset": 3, "rowPadding": 0, "padding": 0}
}
}
